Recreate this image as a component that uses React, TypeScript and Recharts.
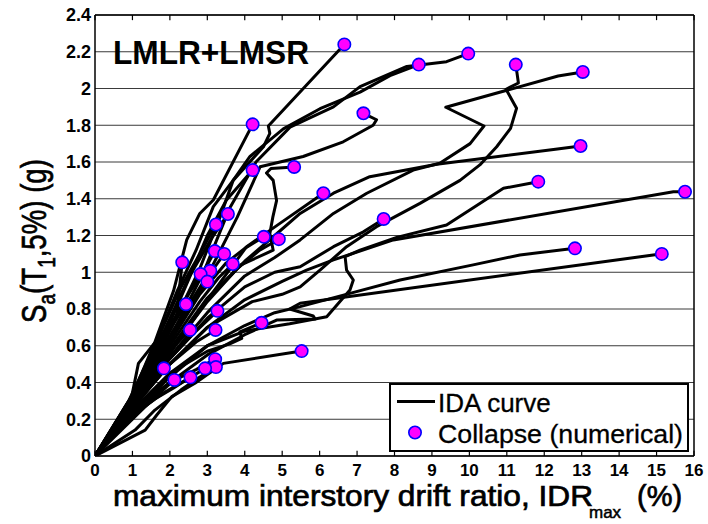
import React from 'react';
import { ComposedChart, Line, Scatter, XAxis, YAxis, CartesianGrid, ReferenceLine } from 'recharts';

const xTicks = [0, 1, 2, 3, 4, 5, 6, 7, 8, 9, 10, 11, 12, 13, 14, 15, 16];
const yTicks = [0, 0.2, 0.4, 0.6, 0.8, 1, 1.2, 1.4, 1.6, 1.8, 2, 2.2, 2.4];

// IDA curves: [IDRmax (%), Sa (g)] ; last point of each = numerical collapse
const ida01 = [[0, 0], [0.9, 0.3], [1.6, 0.6], [2.2, 0.9], [2.7, 1.12], [3.16, 1.357], [3.69, 1.5], [4.5, 1.683], [4.67, 1.756], [4.63, 1.796], [6.66, 2.24]];
const ida02 = [[0, 0], [1, 0.31], [2, 0.68], [2.8, 1.02], [3.34, 1.3], [3.69, 1.5], [4.14, 1.63], [5.03, 1.78], [6.01, 1.89], [7.08, 1.98], [7.88, 2.07], [8.65, 2.13]];
const ida03 = [[0, 0], [1, 0.29], [2, 0.64], [2.9, 1.0], [3.6, 1.35], [4.3, 1.6], [5.21, 1.79], [6.37, 1.9], [7.08, 2.01], [8.33, 2.12], [9.39, 2.146], [9.97, 2.19]];
const ida04 = [[0, 0], [1, 0.26], [2, 0.5], [3, 0.7], [4.2, 0.84], [5.0, 0.88], [5.48, 0.92], [6.01, 1.012], [6.72, 1.139], [7.52, 1.248], [8.68, 1.375], [9.75, 1.5], [10.28, 1.584], [10.73, 1.683], [11.1, 1.783], [11.26, 1.892], [10.98, 1.996], [11.31, 2.03], [11.24, 2.13]];
const ida05 = [[0, 0], [1, 0.27], [2, 0.54], [3, 0.78], [4, 0.98], [4.8, 1.08], [5.48, 1.176], [6.37, 1.32], [7.26, 1.43], [8.5, 1.556], [9.21, 1.593], [10.02, 1.7], [10.39, 1.796], [9.37, 1.898], [12.37, 2.068], [13.03, 2.09]];
const ida06 = [[0, 0], [1, 0.3], [2, 0.63], [3, 0.98], [3.8, 1.3], [4.41, 1.574], [5.56, 1.63], [6.63, 1.71], [7.43, 1.8], [7.52, 1.83], [7.17, 1.865]];
const ida07 = [[0, 0], [1, 0.33], [1.6, 0.62], [2.1, 0.9], [2.45, 1.176], [2.8, 1.32], [3.16, 1.393], [4.21, 1.805]];
const ida08 = [[0, 0], [1, 0.31], [1.8, 0.63], [2.5, 0.96], [3.0, 1.2], [3.5, 1.39], [4.21, 1.556]];
const ida09 = [[0, 0], [1, 0.27], [2, 0.56], [3, 0.85], [3.9, 1.04], [4.76, 1.12], [4.67, 1.21], [4.75, 1.3], [4.85, 1.39], [4.76, 1.5], [4.58, 1.54], [4.7, 1.565], [5.32, 1.573]];
const ida10 = [[0, 0], [1, 0.28], [2, 0.58], [3, 0.86], [4, 1.06], [4.8, 1.2], [5.48, 1.32], [6.37, 1.43], [7.34, 1.52], [9.13, 1.588], [12.3, 1.67], [12.97, 1.687]];
const ida11 = [[0, 0], [1, 0.28], [2, 0.56], [3, 0.85], [4.05, 1.139], [4.94, 1.266], [6.1, 1.43]];
const ida12 = [[0, 0], [1, 0.24], [2, 0.45], [3, 0.6], [4, 0.68], [5.2, 0.72], [6.19, 0.758], [6.81, 0.903], [6.9, 0.958], [6.72, 1.012], [6.68, 1.085], [7.08, 1.12], [8.06, 1.19], [9.39, 1.257], [10.91, 1.457], [11.84, 1.493]];
const ida13 = [[0, 0], [1, 0.26], [2, 0.5], [3, 0.7], [4, 0.85], [5, 0.95], [5.65, 1.012], [6.37, 1.067], [7.97, 1.176], [15.45, 1.438], [15.76, 1.438]];
const ida14 = [[0, 0], [1, 0.32], [1.8, 0.66], [2.5, 0.97], [3.1, 1.18], [3.55, 1.317]];
const ida15 = [[0, 0], [1, 0.33], [1.7, 0.65], [2.3, 0.92], [2.8, 1.1], [3.23, 1.26]];
const ida16 = [[0, 0], [1, 0.27], [2, 0.53], [3, 0.75], [4, 0.92], [4.8, 1.0], [5.48, 1.03], [6.37, 1.139], [7.17, 1.22], [7.71, 1.29]];
const ida17 = [[0, 0], [1, 0.3], [2, 0.62], [2.8, 0.88], [3.5, 1.05], [4, 1.13], [4.51, 1.193]];
const ida18 = [[0, 0], [1, 0.28], [2, 0.57], [3, 0.84], [3.8, 1.02], [4.4, 1.12], [4.91, 1.18]];
const ida19 = [[0, 0], [1, 0.31], [1.8, 0.62], [2.5, 0.88], [3, 1.04], [3.2, 1.115]];
const ida20 = [[0, 0], [1, 0.3], [2, 0.62], [2.7, 0.86], [3.1, 1.0], [3.45, 1.1]];
const ida21 = [[0, 0], [1, 0.29], [2, 0.6], [2.8, 0.84], [3.3, 0.97], [3.68, 1.045]];
const ida22 = [[0, 0], [0.98, 0.323], [1.16, 0.504], [1.65, 0.63], [2.18, 0.758], [2.27, 0.94], [2.33, 1.054]];
const ida23 = [[0, 0], [1, 0.3], [1.9, 0.62], [2.5, 0.82], [2.9, 0.95], [3.08, 1.008]];
const ida24 = [[0, 0], [1, 0.32], [1.8, 0.63], [2.4, 0.85], [2.82, 0.99]];
const ida25 = [[0, 0], [1, 0.3], [1.9, 0.6], [2.5, 0.8], [3, 0.949]];
const ida26 = [[0, 0], [1, 0.23], [2, 0.43], [3, 0.6], [4, 0.71], [4.8, 0.78], [5.48, 0.813], [6.81, 0.885], [8.15, 0.958], [10.1, 1.04], [11.35, 1.094], [12.82, 1.13]];
const ida27 = [[0, 0], [1, 0.22], [2, 0.4], [3, 0.55], [4, 0.66], [4.85, 0.74], [5.88, 0.745], [5.83, 0.762], [5.2, 0.8], [5.48, 0.831], [14.91, 1.094], [15.14, 1.1]];
const ida28 = [[0, 0], [1, 0.31], [1.7, 0.58], [2.1, 0.72], [2.43, 0.826]];
const ida29 = [[0, 0], [1, 0.28], [2, 0.53], [2.7, 0.68], [3.27, 0.79]];
const ida30 = [[0, 0], [1, 0.3], [1.8, 0.53], [2.54, 0.686]];
const ida31 = [[0, 0], [1, 0.27], [2, 0.5], [2.7, 0.62], [3.22, 0.686]];
const ida32 = [[0, 0], [1, 0.25], [2, 0.45], [3, 0.57], [3.6, 0.61], [3.92, 0.64], [3.87, 0.676], [4.45, 0.725]];
const ida33 = [[0, 0], [1.34, 0.141], [1.65, 0.223], [2.05, 0.323], [2.67, 0.396], [3.43, 0.504], [5.52, 0.571]];
const ida34 = [[0, 0], [1, 0.25], [2, 0.4], [2.7, 0.47], [3.21, 0.527]];
const ida35 = [[0, 0], [1.07, 0.141], [1.6, 0.25], [2.3, 0.36], [2.8, 0.43], [3.23, 0.484]];
const ida36 = [[0, 0], [1, 0.29], [1.5, 0.42], [1.84, 0.477]];
const ida37 = [[0, 0], [1, 0.2], [1.6, 0.32], [2.12, 0.414]];
const ida38 = [[0, 0], [1, 0.22], [1.6, 0.31], [2.1, 0.37], [2.55, 0.428]];
const ida39 = [[0, 0], [1, 0.22], [1.8, 0.34], [2.4, 0.41], [2.94, 0.477]];

const curves = [
  ida01, ida02, ida03, ida04, ida05, ida06, ida07, ida08, ida09, ida10,
  ida11, ida12, ida13, ida14, ida15, ida16, ida17, ida18, ida19, ida20,
  ida21, ida22, ida23, ida24, ida25, ida26, ida27, ida28, ida29, ida30,
  ida31, ida32, ida33, ida34, ida35, ida36, ida37, ida38, ida39,
];

const toRows = (pts: number[][]) => pts.map(([x, y]) => ({ x, y }));
const collapse = curves.map((c) => ({ x: c[c.length - 1][0], y: c[c.length - 1][1] }));

const FONT = '"Liberation Sans", Arial, Helvetica, sans-serif';

const Marker = (props: any) => (
  <circle cx={props.cx} cy={props.cy} r={6.2} fill="#ff00ff" stroke="#0000ff" strokeWidth={1.6} />
);

export default function App() {
  return (
    <div style={{ position: 'absolute', left: 0, top: 0, width: 708, height: 524, background: '#fff', fontFamily: FONT }}>
      <ComposedChart width={708} height={524} margin={{ top: 15, right: 14, bottom: 0, left: 0 }}>
        <CartesianGrid vertical={false} stroke="#3a3a3a" strokeWidth={1} />
        <XAxis
          type="number"
          dataKey="x"
          domain={[0, 16]}
          ticks={xTicks}
          interval={0}
          allowDataOverflow
          height={68}
          tickSize={0}
          tickMargin={8}
          tickLine={false}
          axisLine={{ stroke: '#000', strokeWidth: 1.5 }}
          tick={{ fill: '#000', fontSize: 17, fontWeight: 'bold', fontFamily: FONT }}
        />
        <YAxis
          type="number"
          dataKey="y"
          domain={[0, 2.4]}
          ticks={yTicks}
          interval={0}
          allowDataOverflow
          width={95}
          tickSize={0}
          tickMargin={4}
          tickLine={false}
          axisLine={{ stroke: '#000', strokeWidth: 1.5 }}
          tickFormatter={(v: number) => String(v)}
          tick={{ fill: '#000', fontSize: 18, fontWeight: 'bold', fontFamily: FONT }}
        />
        <ReferenceLine y={2.4} stroke="#000" strokeWidth={1.5} />
        <ReferenceLine x={16} stroke="#000" strokeWidth={1.5} />
        {xTicks.map((t) => (
          <ReferenceLine key={'tb' + t} segment={[{ x: t, y: 0 }, { x: t, y: 0.028 }]} stroke="#000" strokeWidth={1.2} />
        ))}
        {xTicks.map((t) => (
          <ReferenceLine key={'tt' + t} segment={[{ x: t, y: 2.4 }, { x: t, y: 2.372 }]} stroke="#000" strokeWidth={1.2} />
        ))}
        {curves.map((c, i) => (
          <Line
            key={'ida' + i}
            data={toRows(c)}
            dataKey="y"
            type="linear"
            stroke="#000"
            strokeWidth={3}
            dot={false}
            activeDot={false}
            isAnimationActive={false}
            strokeLinejoin="round"
          />
        ))}
        <Scatter data={collapse} dataKey="y" shape={(p: any) => <Marker {...p} />} isAnimationActive={false} />
      </ComposedChart>

      <svg width={708} height={524} style={{ position: 'absolute', left: 0, top: 0, pointerEvents: 'none' }}>
        <text x={113} y={64} fontFamily={FONT} fontWeight="bold" fontSize={33} textLength={196} lengthAdjust="spacingAndGlyphs" fill="#000">
          LMLR+LMSR
        </text>

        <text x={113} y={506} fontFamily={FONT} fontSize={29} fill="#000" stroke="#000" strokeWidth={0.7} textLength={480} lengthAdjust="spacingAndGlyphs">
          maximum interstory drift ratio, IDR
        </text>
        <text x={589} y={518} fontFamily={FONT} fontSize={17} fill="#000" stroke="#000" strokeWidth={0.5}>
          max
        </text>
        <text x={637} y={506} fontFamily={FONT} fontSize={29} fill="#000" stroke="#000" strokeWidth={0.7}>
          (%)
        </text>

        <text
          x={0}
          y={0}
          transform="translate(46,241) rotate(-90) scale(0.79,1)"
          textAnchor="middle"
          fontFamily={FONT}
          fontSize={35}
          fill="#000"
          stroke="#000"
          strokeWidth={0.7}
        >
          <tspan>S</tspan>
          <tspan dy={9} fontSize={24}>a</tspan>
          <tspan dy={-9}>(T</tspan>
          <tspan dy={9} fontSize={24}>1</tspan>
          <tspan dy={-9}>,5%) (g)</tspan>
        </text>

        <rect x={390} y={384} width={298} height={67} fill="#fff" stroke="#000" strokeWidth={2} />
        <line x1={397} y1={401.5} x2={435} y2={401.5} stroke="#000" strokeWidth={3} />
        <text x={438} y={411.5} fontFamily={FONT} fontSize={26} fill="#000" stroke="#000" strokeWidth={0.3}>IDA curve</text>
        <circle cx={415} cy={432.5} r={6.2} fill="#ff00ff" stroke="#0000ff" strokeWidth={1.6} />
        <text x={438} y={442.5} fontFamily={FONT} fontSize={26} fill="#000" stroke="#000" strokeWidth={0.3} textLength={245} lengthAdjust="spacingAndGlyphs">Collapse (numerical)</text>
      </svg>
    </div>
  );
}
